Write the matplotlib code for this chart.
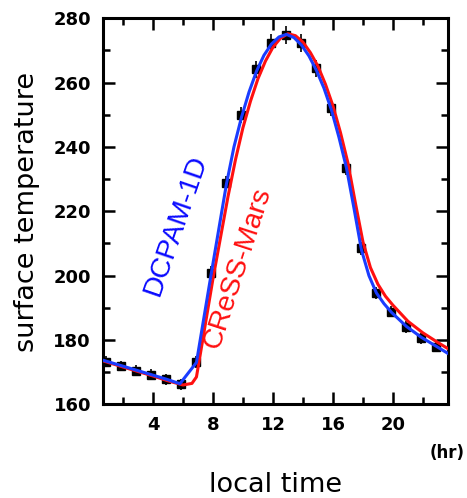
import matplotlib.pyplot as plt
from matplotlib.ticker import MultipleLocator

obs_hour = [0.9, 1.9, 2.9, 3.9, 4.9, 5.9, 6.9, 7.9, 8.9, 9.9, 10.9, 11.9,
            12.9, 13.9, 14.9, 15.9, 16.9, 17.9, 18.9, 19.9, 20.9, 21.9, 22.9]
obs_temp = [173.3, 171.9, 170.5, 169.2, 167.8, 166.2, 173.2, 200.9, 228.7, 249.9, 264.1, 272.2,
            274.8, 272.2, 264.4, 252.0, 233.4, 208.5, 194.7, 188.8, 184.1, 180.6, 177.9]
obs_err = [1.7, 1.7, 1.7, 1.7, 1.7, 1.7, 1.8, 2.0, 2.2, 2.5, 2.6, 2.8,
           2.8, 2.8, 2.6, 2.5, 2.2, 2.0, 1.9, 1.8, 1.8, 1.7, 1.7]

# DCPAM-1D (blue)
dcpam_hour = [0.67, 1.9, 2.9, 3.9, 4.9, 5.8, 6.9, 7.9, 8.9, 9.4, 9.9, 10.4, 10.9, 11.4, 11.9,
              12.4, 12.9, 13.4, 13.9, 14.4, 14.9, 15.4, 15.9, 16.4, 16.9, 17.4, 17.9, 18.4,
              18.9, 19.4, 19.9, 20.9, 21.9, 22.9, 23.67]
dcpam_temp = [173.7, 172.0, 170.6, 169.2, 167.8, 166.4, 173.0, 201.0, 228.5, 240.0, 249.2, 257.0,
              263.5, 268.5, 272.0, 274.2, 275.0, 274.0, 271.7, 268.3, 263.8, 258.3, 251.5, 243.0,
              233.5, 221.0, 208.0, 200.0, 194.6, 191.3, 188.6, 184.2, 180.8, 178.0, 175.8]

# CReSS-Mars (red)
cress_hour = [0.67, 2.0, 3.0, 4.0, 5.0, 6.0, 6.6, 6.9, 7.1, 8.0, 9.0, 9.5, 10.0, 10.5, 11.0,
              11.5, 12.0, 12.5, 13.0, 13.5, 14.0, 14.5, 15.0, 15.5, 16.0, 16.5, 17.0, 17.5,
              18.0, 18.5, 19.0, 19.5, 20.0, 21.0, 22.0, 23.0, 23.67]
cress_temp = [173.5, 171.6, 170.2, 168.8, 167.3, 166.0, 166.5, 168.5, 174.0, 199.0, 224.5, 236.0,
              246.0, 254.2, 261.2, 266.7, 271.0, 273.8, 275.2, 274.6, 272.6, 269.3, 265.1, 259.5,
              252.8, 244.5, 235.0, 222.5, 210.5, 202.5, 197.3, 193.6, 190.8, 185.8, 182.2,
              179.2, 177.3]

fig = plt.figure(figsize=(4.67, 4.98), dpi=100)
ax = fig.add_axes([103 / 467, 1 - 404.3 / 498, 345 / 467, 386 / 498])

ax.errorbar(obs_hour, obs_temp, yerr=obs_err, fmt='none', ecolor='black',
            elinewidth=1.2, capsize=0, zorder=2)
ax.plot(obs_hour, obs_temp, 's', color='black', markersize=5.5, zorder=2)
ax.plot(cress_hour, cress_temp, color='#ff1010', lw=2.2, zorder=3)
ax.plot(dcpam_hour, dcpam_temp, color='#1a3cff', lw=2.2, zorder=4)

ax.text(5.53, 215.7, 'DCPAM-1D', color='#0a0aff', fontsize=20.5, family='Liberation Sans',
        rotation=71, rotation_mode='anchor', ha='center', va='center')
ax.text(9.63, 202.3, 'CReSS-Mars', color='#ff1010', fontsize=20.5, family='Liberation Sans',
        rotation=72, rotation_mode='anchor', ha='center', va='center')

ax.set_xlim(0.67, 23.67)
ax.set_ylim(160, 280)
ax.xaxis.set_major_locator(MultipleLocator(4))
ax.xaxis.set_minor_locator(MultipleLocator(2))
ax.yaxis.set_major_locator(MultipleLocator(20))
ax.yaxis.set_minor_locator(MultipleLocator(10))
ax.tick_params(which='both', direction='in', top=True, right=True, width=1.8, color='black')
ax.tick_params(which='major', length=8.5, pad=8.6, labelsize=13)
ax.tick_params(which='minor', length=5)
for lab in ax.get_xticklabels() + ax.get_yticklabels():
    lab.set_fontweight('bold')
for sp in ax.spines.values():
    sp.set_linewidth(2.2)

fig.text(27 / 467, 1 - 212 / 498, 'surface temperature', rotation=90, fontsize=19.5,
         ha='center', va='center')
fig.text(276 / 467, 1 - 492 / 498, 'local time', fontsize=19.5, ha='center', va='baseline')
fig.text(465 / 467, 1 - 458 / 498, '(hr)', fontsize=12, fontweight='bold',
         ha='right', va='baseline')

fig.savefig('out.png', dpi=100)
